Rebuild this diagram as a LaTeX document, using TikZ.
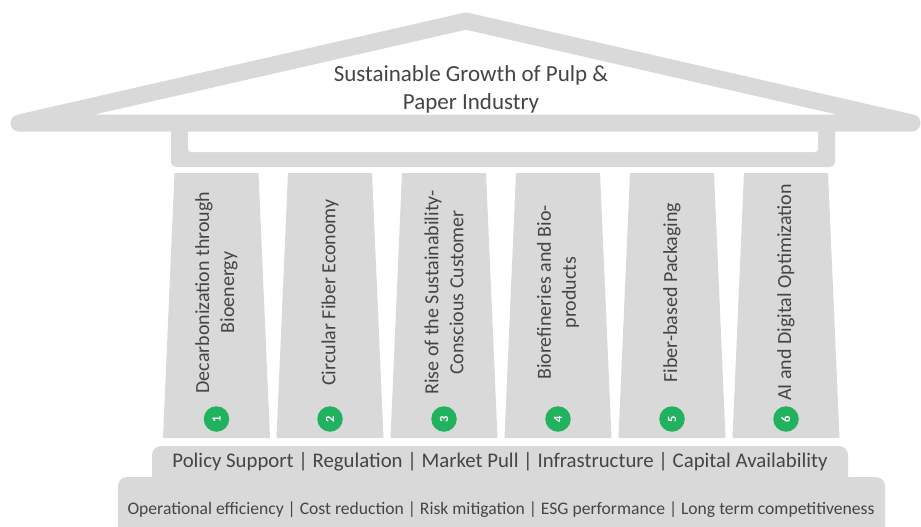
\documentclass[tikz,border=0pt]{standalone}
\usepackage{fontspec}
\setmainfont{Carlito}
\begin{document}
\definecolor{stone}{HTML}{D9D9D9}
\definecolor{ink}{HTML}{454545}
\definecolor{badge}{HTML}{21B25F}
\begin{tikzpicture}[x=1pt,y=-1pt,
  pillar/.style={fill=stone,draw=none},
  pillartext/.style={text=ink,rotate=90,align=center,font=\fontsize{20}{25}\selectfont,inner sep=0pt},
  numbadge/.style={circle,fill=badge,text=white,minimum size=25.5pt,inner sep=0pt,rotate=90,font=\fontsize{12.5}{12}\selectfont\bfseries},
  steptext/.style={text=ink,inner sep=0pt}]
\useasboundingbox (0,0) rectangle (921,527);
\fill[white] (0,0) rectangle (921,527);

% architrave under the roof
\fill[stone,rounded corners=5pt] (171,125) rectangle (835,167);
\fill[white,rounded corners=3pt] (188,125) rectangle (818,152);

% roof
\draw[stone,line width=17pt,line join=round,line cap=round]
  (19,123) -- (466,21) -- (912,123) -- cycle;
\node[text=ink,align=center,font=\fontsize{23}{28}\selectfont] (title) at (471,89)
  {Sustainable Growth of Pulp \&\\Paper Industry};

% base steps
\fill[stone,rounded corners=9pt] (152,446) rectangle (848,500);
\fill[stone,rounded corners=9pt] (118,477) rectangle (885,545);
\node[steptext,font=\fontsize{20.8}{21}\selectfont] (drivers) at (500,462)
  {Policy Support | Regulation | Market Pull | Infrastructure | Capital Availability};
\node[steptext,font=\fontsize{17.6}{18}\selectfont] (benefits) at (501,510)
  {Operational efficiency | Cost reduction | Risk mitigation | ESG performance | Long term competitiveness};

% pillars
\foreach \cx/\n/\txt in {
  216.5/1/{Decarbonization through\\Bioenergy},
  330/2/{Circular Fiber Economy},
  444/3/{Rise of the Sustainability-\\Conscious Customer},
  558/4/{Biorefineries and Bio-\\products},
  672/5/{Fiber-based Packaging},
  786/6/{AI and Digital Optimization}}{
  \fill[pillar] (\cx-42,173) -- (\cx+42,173) -- (\cx+53.5,438) -- (\cx-53.5,438) -- cycle;
  \node[pillartext] (pillar\n) at (\cx,292.5) {\txt};
  \node[numbadge] (badge\n) at (\cx,419) {\n};
}
\end{tikzpicture}
\end{document}
